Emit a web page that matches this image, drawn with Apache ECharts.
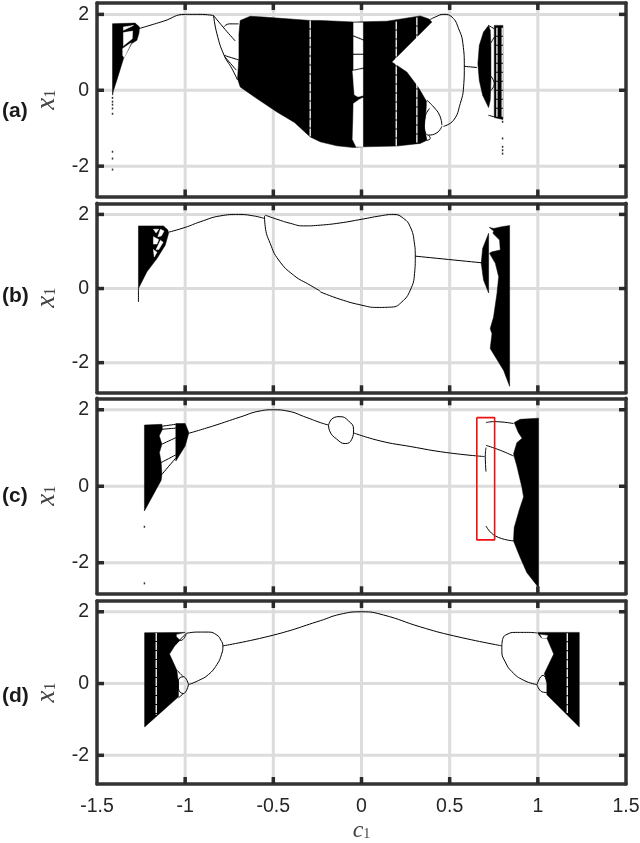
<!DOCTYPE html>
<html><head><meta charset="utf-8">
<style>html,body{margin:0;padding:0;background:#fff}#c{width:640px;height:843px}</style>
<script src="https://cdn.jsdelivr.net/npm/echarts@6/dist/echarts.min.js"></script>
</head><body><div id="c"></div>
<script>
const xTicks=[-1.5,-1,-0.5,0,0.5,1,1.5];
const yTicks=[-2,0,2];
const xRange=[-1.5,1.5];
const yRange=[-2.8,2.3];
const panelNames=['(a)','(b)','(c)','(d)'];

// ---- panel (a)
const aFill=[
 [[-1.412,1.754],[-1.284,1.77],[-1.259,1.67],[-1.262,1.5],[-1.274,1.315],[-1.303,1.23],[-1.35,0.83],[-1.388,0.26],[-1.406,0],[-1.412,-0.13]],
 [[-0.688,1.84],[-0.631,1.95],[-0.556,1.93],[-0.291,1.84],[-0.234,1.84],[-0.045,1.80],[0.144,1.82],[0.333,1.96],[0.38,1.885],[0.399,1.80],[0.172,0.745],[0.257,0.48],[0.323,0.07],[0.371,-0.31],[0.356,-0.96],[0.371,-1.32],[0.333,-1.40],[0.2,-1.47],[0.012,-1.49],[-0.045,-1.51],[-0.14,-1.465],[-0.234,-1.36],[-0.291,-1.23],[-0.38,-0.85],[-0.48,-0.57],[-0.6,-0.2],[-0.688,0.088],[-0.703,0.307],[-0.695,0.877],[-0.695,1.49]],
 [[0.7206,1.71],[0.692,1.535],[0.668,1.18],[0.66,0.7],[0.668,0.26],[0.687,-0.13],[0.7206,-0.456],[0.73,-0.26],[0.734,0.26],[0.734,1.14],[0.73,1.58]],
 [[0.753,1.71],[0.802,1.71],[0.802,-0.77],[0.753,-0.72]]
];
const aHoles=[
 [[-1.35,1.67],[-1.293,1.71],[-1.35,1.58]],
 [[-1.35,1.52],[-1.298,1.56],[-1.30,1.36],[-1.35,1.17]],
 [[-1.354,1.1],[-1.306,1.25],[-1.346,0.86],[-1.354,0.92]],
 [[-0.045,1.78],[0.008,1.78],[0.008,1.35],[-0.045,1.45]],
 [[-0.045,1.41],[0.008,1.31],[0.008,0.97],[-0.045,0.97]],
 [[-0.045,0.93],[0.008,0.93],[0.008,0.60],[-0.045,0.55]],
 [[-0.05,0.51],[0.008,0.56],[0.008,-0.14],[-0.02,-0.17],[-0.04,-0.12]],
 [[-0.045,-0.35],[-0.01,-0.24],[0.008,-0.2],[0.008,-1.49],[-0.03,-1.49],[-0.05,-1.3]],
 [[0.371,-0.31],[0.387,-0.42],[0.372,-0.52]]
];
const aLines=[
 [[-1.265,1.62],[-1.123,1.82],[-1.0,2.0],[-0.915,2.0],[-0.839,1.97]],
 [[-0.839,1.97],[-0.773,1.6],[-0.716,1.3]],
 [[-0.839,1.97],[-0.82,1.49],[-0.779,0.92],[-0.735,0.57],[-0.703,0.27]],
 [[-0.779,1.68],[-0.75,1.75],[-0.697,1.75]],
 [[-0.779,0.92],[-0.697,0.8]],
 [[-0.775,0.88],[-0.71,0.53]],
 [[0.38,1.84],[0.418,1.93],[0.466,2.0],[0.513,1.93],[0.551,1.62],[0.575,1.23],[0.583,0.61],[0.579,0.09],[0.56,-0.35],[0.522,-0.79],[0.465,-0.95]],
 [[0.371,-0.26],[0.409,-0.44],[0.443,-0.66],[0.456,-0.92]],
 [[0.456,-0.95],[0.428,-1.12],[0.38,-1.18],[0.356,-0.96],[0.361,-0.70],[0.386,-0.48]],
 [[0.38,-1.18],[0.39,-1.27],[0.371,-1.32]],
 [[0.583,0.63],[0.655,0.60]],
 [[0.72,1.71],[0.753,1.62]],
 [[0.73,1.22],[0.753,1.40]],
 [[0.73,0.39],[0.753,0.17],[0.73,-0.02]],
 [[0.72,-0.66],[0.753,-0.70]]
];
const aStripes=[
 [[-0.291,1.84],[-0.291,-1.22]],
 [[0.197,1.81],[0.197,-1.46]],
 [[0.314,1.92],[0.314,-1.38]],
 [[0.768,1.65],[0.768,-0.7]],
 [[0.798,1.65],[0.798,-0.7]]
];
const aDots=[[-1.412,-0.2],[-1.412,-0.3],[-1.412,-0.38],[-1.412,-0.48],[-1.412,-0.62],[-1.412,-1.62],[-1.412,-1.8],[-1.412,-2.09],[0.8,-0.83],[0.8,-1.27],[0.8,-1.49],[0.8,-1.58],[0.8,-1.67]];

// ---- panel (b)
const bFill=[
 [[-1.265,1.69],[-1.123,1.69],[-1.098,1.58],[-1.094,1.49],[-1.113,1.17],[-1.16,0.81],[-1.217,0.45],[-1.265,0]],
 [[0.721,1.49],[0.687,1.08],[0.679,0.68],[0.692,0.23],[0.721,-0.12],[0.721,0.59]],
 [[0.725,1.65],[0.75,1.62],[0.796,1.67],[0.84,1.70],[0.84,-2.64],[0.806,-2.21],[0.73,-1.62],[0.74,-1.22],[0.73,-1.08],[0.749,-0.77],[0.768,-0.14],[0.778,0.32],[0.759,0.68],[0.726,0.95],[0.74,0.99],[0.787,1.04],[0.783,1.31],[0.745,1.49],[0.75,1.55]]
];
const bHoles=[
 [[-1.18,1.6],[-1.15,1.6],[-1.165,1.5]],
 [[-1.14,1.6],[-1.12,1.55],[-1.135,1.42],[-1.155,1.4]],
 [[-1.18,1.4],[-1.15,1.32],[-1.16,1.2],[-1.18,1.2]],
 [[-1.14,1.3],[-1.125,1.25],[-1.15,1.05],[-1.165,1.05]],
 [[-1.18,1.05],[-1.16,0.98],[-1.175,0.85]]
];
const bLines=[
 [[-1.094,1.52],[-1.0,1.65],[-0.915,1.80],[-0.801,1.96],[-0.697,2.0],[-0.612,1.96],[-0.55,1.89]],
 [[-0.546,1.98],[-0.48,1.87],[-0.404,1.76],[-0.329,1.69],[-0.234,1.71],[-0.121,1.77],[0.002,1.87],[0.106,1.96],[0.182,2.0],[0.239,1.89],[0.276,1.67],[0.299,1.26],[0.305,0.86],[0.301,0.41],[0.276,-0.05],[0.229,-0.36],[0.172,-0.50],[0.087,-0.51],[0.002,-0.45],[-0.121,-0.29],[-0.234,-0.09]],
 [[-0.55,1.96],[-0.546,1.67],[-0.518,1.22],[-0.47,0.77],[-0.385,0.36],[-0.291,0.09],[-0.234,-0.07]],
 [[0.305,0.874],[0.683,0.694]],
 [[-1.265,0],[-1.265,-0.36]]
];
const bStripes=[];
const bDots=[];

// ---- panel (c)
const cFill=[
 [[-1.231,1.60],[-1.132,1.62],[-1.129,1.49],[-1.147,1.32],[-1.132,1.10],[-1.146,0.88],[-1.136,0.62],[-1.132,0.31],[-1.136,0.157],[-1.231,-0.645]],
 [[-1.053,1.64],[-1.0,1.64],[-0.979,1.40],[-1.0,1.05],[-1.053,0.66]],
 [[0.866,1.665],[0.90,1.75],[1.004,1.78],[1.004,-2.65],[0.938,-2.26],[0.90,-1.865],[0.862,-1.43],[0.866,-1.08],[0.896,-0.60],[0.919,-0.28],[0.91,-0.035],[0.881,0.53],[0.862,0.84],[0.881,1.14],[0.911,1.255],[0.89,1.40]]
];
const cHoles=[];
const cLines=[
 [[-1.132,1.57],[-1.053,1.62]],
 [[-1.132,1.49],[-1.053,1.52]],
 [[-1.132,1.10],[-1.053,1.27]],
 [[-1.136,0.62],[-1.053,0.82]],
 [[-1.132,0.31],[-1.053,0.74]],
 [[-0.979,1.385],[-0.839,1.58],[-0.688,1.81],[-0.574,1.97],[-0.499,2.0],[-0.423,1.97],[-0.31,1.795],[-0.234,1.665],[-0.187,1.60]],
 [[-0.187,1.60],[-0.162,1.78],[-0.121,1.82],[-0.074,1.71],[-0.045,1.49],[-0.055,1.23],[-0.092,1.115],[-0.14,1.23],[-0.181,1.45],[-0.187,1.60]],
 [[-0.048,1.40],[0.106,1.185],[0.276,1.04],[0.484,0.88],[0.698,0.776]],
 [[0.706,1.01],[0.702,0.78],[0.706,0.383]],
 [[0.706,1.665],[0.75,1.69],[0.862,1.64]],
 [[0.706,1.07],[0.787,0.94],[0.862,0.79]],
 [[0.706,-1.04],[0.759,-1.30],[0.862,-1.43]]
];
const cStripes=[];
const cDots=[[-1.231,-1.06],[-1.231,-2.54]];
const cBox=[[0.654,1.795],[0.755,1.795],[0.755,-1.403],[0.654,-1.403],[0.654,1.795]];

// ---- panel (d)
const dFill=[
 [[-1.23,1.415],[-1.0,1.425],[-1.05,1.37],[-1.05,1.30],[-1.03,1.2],[-1.057,1.07],[-1.089,0.82],[-1.047,0.37],[-1.038,0],[-1.038,-0.37],[-1.23,-1.21]],
 [[1.0,1.425],[1.235,1.425],[1.235,-1.21],[1.051,-0.31],[1.051,0],[1.037,0.28],[1.09,0.82],[1.052,1.26],[1.02,1.27],[1.0,1.4]]
];
const dHoles=[
 [[1.015,1.36],[1.055,1.34],[1.05,1.27],[1.025,1.27]]
];
const dLines=[
 [[-0.994,1.397],[-0.934,1.434],[-0.868,1.434],[-0.82,1.35],[-0.798,1.21],[-0.786,1.05],[-0.794,0.81],[-0.82,0.53],[-0.868,0.25],[-0.924,0.084],[-0.981,-0.03]],
 [[-1.057,1.07],[-1.019,1.275],[-0.994,1.397]],
 [[-1.05,1.30],[-1.025,1.2],[-0.994,1.37]],
 [[-0.981,-0.03],[-1.01,0.19],[-1.038,0.09],[-1.038,-0.14],[-1.01,-0.28],[-0.981,-0.03]],
 [[-1.01,-0.28],[-1.038,-0.4]],
 [[-1.047,0.37],[-1.01,0.19]],
 [[-0.786,1.05],[-0.499,1.35],[-0.234,1.75],[-0.121,1.93],[0.002,2.0],[0.125,1.91],[0.333,1.58],[0.522,1.33],[0.796,1.05]],
 [[0.796,1.05],[0.796,0.885],[0.815,0.605],[0.853,0.33],[0.92,0.09],[0.995,-0.03]],
 [[0.796,1.05],[0.802,1.26],[0.825,1.37],[0.872,1.425],[0.948,1.425],[0.995,1.41]],
 [[0.995,-0.03],[1.03,0.23],[1.051,0.1]],
 [[0.995,-0.03],[1.023,-0.23],[1.051,-0.25]]
];
const dStripes=[
 [[-1.164,1.41],[-1.164,-0.87]],
 [[1.167,1.40],[1.167,-0.82]]
];
const dDots=[];

const panels=[
 {fill:aFill,holes:aHoles,lines:aLines,stripes:aStripes,dots:aDots},
 {fill:bFill,holes:bHoles,lines:bLines,stripes:bStripes,dots:bDots},
 {fill:cFill,holes:cHoles,lines:cLines,stripes:cStripes,dots:cDots,box:cBox},
 {fill:dFill,holes:dHoles,lines:dLines,stripes:dStripes,dots:dDots}
];
const frames=[[3,193.5,112],[203.3,189,297],[398.3,195,497],[601,183,697]];

const INK='#333333',GRID='#dcdcdc',TXT='#262626',SANS='"Liberation Sans",Arial,sans-serif',SERIF='"Liberation Serif",serif';
const grids=[],xAxes=[],yAxes=[],series=[],graphics=[];

function polySeries(poly,gi,color,z){
  return {type:'custom',xAxisIndex:gi*2,yAxisIndex:gi*2,z,silent:true,clip:true,
    data:poly,encode:{x:0,y:1},
    renderItem:(params,api)=>{
      if(params.dataIndex!==0) return null;
      return {type:'polygon',shape:{points:poly.map(p=>api.coord(p))},style:{fill:color,stroke:color,lineWidth:0.5}};
    }};
}
function lineSeries(pts,gi,color,w,z,smooth,dash){
  return {type:'line',xAxisIndex:gi*2,yAxisIndex:gi*2,z,silent:true,data:pts,showSymbol:false,symbol:'none',
    smooth:smooth,lineStyle:{color,width:w,type:dash||'solid'},animation:false};
}
// tick marks on all four sides, drawn as short segments through the axis scales
function tickSeries(gi){
  const inner=xTicks.slice(1,-1);
  const pts=inner.map(v=>[v,yRange[0],0]).concat(inner.map(v=>[v,yRange[1],1]),yTicks.map(v=>[xRange[0],v,2]),yTicks.map(v=>[xRange[1],v,3]));
  return {type:'custom',xAxisIndex:gi*2,yAxisIndex:gi*2,z:8,silent:true,clip:false,data:pts,encode:{x:0,y:1},
    renderItem:(params,api)=>{
      const side=pts[params.dataIndex][2],c=api.coord([pts[params.dataIndex][0],pts[params.dataIndex][1]]),L=7,T=3.5;
      const r=side===0?{x:c[0]-T/2,y:c[1]-L,width:T,height:L}
        :side===1?{x:c[0]-T/2,y:c[1],width:T,height:L}
        :side===2?{x:c[0],y:c[1]-T/2,width:L,height:T}
        :{x:c[0]-L,y:c[1]-T/2,width:L,height:T};
      return {type:'rect',shape:r,style:{fill:'#2a2a2a'}};
    }};
}
panels.forEach((p,i)=>{
  const [top,h]=frames[i];
  grids.push({left:97,width:529,top,height:h,containLabel:false,outerBoundsMode:'none'});
  const last=i===3;
  const axLine={show:true,onZero:false,lineStyle:{color:INK,width:3.5}};
  xAxes.push({type:'value',z:2,gridIndex:i,position:'bottom',min:-1.5,max:1.5,interval:0.5,
    axisLine:axLine,axisTick:{show:false},
    axisLabel:{show:last,customValues:xTicks,fontFamily:SANS,fontSize:19.5,color:TXT,margin:13},
    splitLine:{show:false},
    name:last?'{i|c}{s|1}':'',nameLocation:'middle',nameGap:36,
    nameTextStyle:{rich:{i:{fontFamily:SERIF,fontStyle:'italic',fontSize:24,color:'#444',height:22},s:{fontFamily:SERIF,fontSize:14,color:'#444',verticalAlign:'bottom',height:15}}}});
  xAxes.push({type:'value',z:2,gridIndex:i,position:'top',min:-1.5,max:1.5,interval:0.5,
    axisLine:axLine,axisTick:{show:false},axisLabel:{show:false},splitLine:{show:false}});
  yAxes.push({type:'value',z:2,gridIndex:i,position:'left',min:-2.8,max:2.3,
    axisLine:axLine,axisTick:{show:false},
    axisLabel:{show:true,customValues:yTicks,fontFamily:SANS,fontSize:19.5,color:TXT,margin:8},
    splitLine:{show:false},
    name:'{i|x}{s|1}',nameLocation:'middle',nameRotate:90,nameGap:28,
    nameTextStyle:{rich:{i:{fontFamily:SERIF,fontStyle:'italic',fontSize:27,color:'#444',height:24},s:{fontFamily:SERIF,fontSize:16,color:'#444',verticalAlign:'bottom',height:17}}}});
  yAxes.push({type:'value',z:2,gridIndex:i,position:'right',min:-2.8,max:2.3,
    axisLine:axLine,axisTick:{show:false},axisLabel:{show:false},splitLine:{show:false}});
  xTicks.slice(1,-1).forEach(v=>series.push(lineSeries([[v,yRange[0]],[v,yRange[1]]],i,GRID,3,1,false)));
  yTicks.forEach(v=>series.push(lineSeries([[xRange[0],v],[xRange[1],v]],i,GRID,3,1,false)));
  series.push(tickSeries(i));
  p.fill.forEach(poly=>series.push(polySeries(poly,i,'#000',3)));
  p.holes.forEach(poly=>series.push(polySeries(poly,i,'#fff',4)));
  p.lines.forEach(l=>series.push(lineSeries(l,i,'#000',1,5,0.5)));
  p.stripes.forEach(l=>series.push(lineSeries(l,i,'#fff',1.3,6,false,[8,1])));
  if(p.dots.length) series.push({type:'scatter',xAxisIndex:i*2,yAxisIndex:i*2,z:5,silent:true,data:p.dots,symbol:'rect',symbolSize:[1.5,2],itemStyle:{color:'#000'}});
  if(p.box) series.push(lineSeries(p.box,i,'#f01010',1.6,7,false));
  graphics.push({type:'text',left:2,top:frames[i][2]-11,z:10,style:{text:panelNames[i],font:'bold 21px '+SANS,fill:'#1a1a1a'}});
});
const chart=echarts.init(document.getElementById('c'),null,{renderer:'canvas'});
chart.setOption({animation:false,backgroundColor:'#fff',grid:grids,xAxis:xAxes,yAxis:yAxes,series,graphic:graphics});
</script></body></html>
